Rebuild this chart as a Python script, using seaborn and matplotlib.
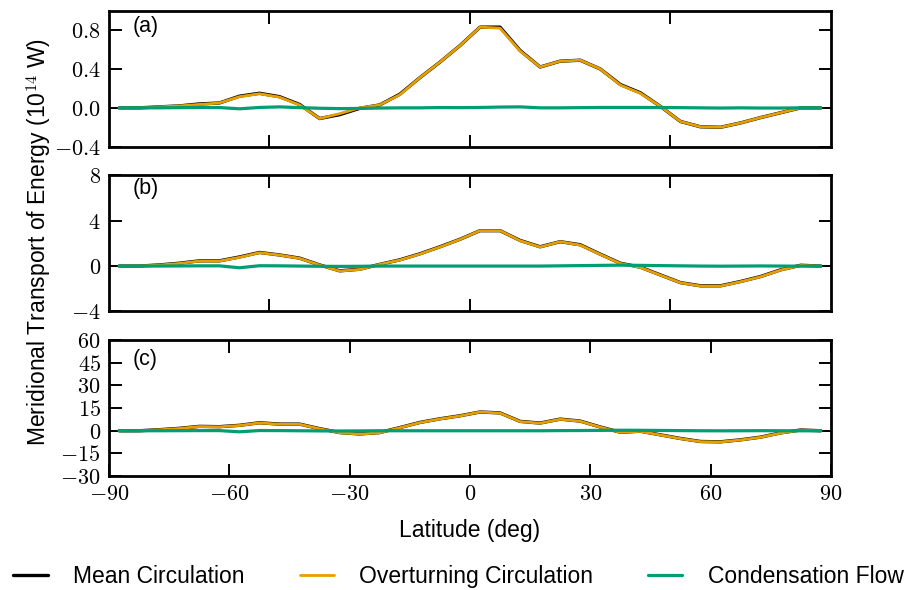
import matplotlib
matplotlib.use("Agg")
import matplotlib.pyplot as plt
from matplotlib.ticker import FuncFormatter
import seaborn as sns

# latitudes of the grid points (deg)
lat = [-87.5, -82.5, -77.5, -72.5, -67.5, -62.5, -57.5, -52.5, -47.5, -42.5,
       -37.5, -32.5, -27.5, -22.5, -17.5, -12.5, -7.5, -2.5, 2.5, 7.5,
       12.5, 17.5, 22.5, 27.5, 32.5, 37.5, 42.5, 47.5, 52.5, 57.5,
       62.5, 67.5, 72.5, 77.5, 82.5, 87.5]

# panel (a)
mean_a = [0.0, 0.0, 0.01, 0.02, 0.04, 0.05, 0.12, 0.15, 0.115, 0.035,
          -0.11, -0.07, -0.005, 0.03, 0.14, 0.31, 0.47, 0.64, 0.83, 0.83,
          0.59, 0.42, 0.48, 0.49, 0.40, 0.24, 0.155, 0.015, -0.14, -0.195,
          -0.20, -0.155, -0.10, -0.05, 0.0, 0.0]
over_a = [0.0, 0.0, 0.01, 0.02, 0.035, 0.05, 0.115, 0.145, 0.11, 0.03,
          -0.11, -0.06, 0.0, 0.03, 0.135, 0.31, 0.47, 0.64, 0.83, 0.82,
          0.585, 0.42, 0.48, 0.49, 0.40, 0.235, 0.15, 0.015, -0.14, -0.195,
          -0.20, -0.155, -0.10, -0.05, 0.0, 0.0]
cond_a = [0.0, 0.0, 0.0, 0.002, 0.004, 0.003, -0.01, 0.004, 0.01, 0.002,
          -0.004, -0.008, -0.006, -0.002, 0.0, 0.0, 0.003, 0.002, 0.004, 0.008,
          0.01, 0.0, 0.0, 0.002, 0.004, 0.004, 0.004, 0.003, 0.002, 0.0,
          -0.002, 0.0, -0.002, -0.002, 0.0, 0.0]

# panel (b)
mean_b = [0.0, 0.0, 0.1, 0.25, 0.46, 0.46, 0.8, 1.2, 0.98, 0.7,
          0.1, -0.42, -0.28, 0.15, 0.55, 1.08, 1.7, 2.36, 3.12, 3.12,
          2.26, 1.7, 2.15, 1.88, 1.05, 0.25, -0.1, -0.78, -1.46, -1.74,
          -1.74, -1.36, -0.92, -0.33, 0.07, 0.0]
over_b = [0.0, 0.0, 0.09, 0.23, 0.44, 0.44, 0.77, 1.18, 0.97, 0.68,
          0.09, -0.44, -0.3, 0.15, 0.53, 1.06, 1.68, 2.35, 3.12, 3.12,
          2.24, 1.68, 2.15, 1.85, 1.03, 0.23, -0.12, -0.8, -1.47, -1.76,
          -1.76, -1.38, -0.94, -0.35, 0.06, 0.0]
cond_b = [0.0, 0.0, 0.0, 0.01, 0.02, 0.02, -0.15, 0.03, 0.02, 0.0,
          -0.02, -0.03, -0.02, 0.0, 0.0, 0.0, 0.0, 0.0, 0.0, 0.0,
          0.0, 0.0, 0.02, 0.04, 0.06, 0.08, 0.06, 0.04, 0.02, 0.0,
          -0.01, 0.0, 0.01, 0.0, -0.01, 0.0]

# panel (c)
mean_c = [0.0, 0.0, 0.7, 1.6, 2.9, 2.7, 3.6, 5.3, 4.4, 4.4,
          1.4, -1.2, -2.1, -1.2, 2.1, 5.5, 7.9, 9.9, 12.4, 11.8,
          6.2, 5.1, 7.7, 6.4, 2.5, -1.0, -0.3, -2.7, -5.1, -7.1,
          -7.3, -6.0, -4.2, -1.4, 0.5, 0.0]
over_c = [0.0, 0.0, 0.65, 1.5, 2.8, 2.6, 3.5, 5.2, 4.3, 4.3,
          1.3, -1.3, -2.2, -1.3, 2.0, 5.4, 7.8, 9.8, 12.4, 11.7,
          6.1, 5.0, 7.6, 6.3, 2.4, -1.1, -0.4, -2.8, -5.2, -7.2,
          -7.4, -6.1, -4.3, -1.5, 0.4, 0.0]
cond_c = [0.0, 0.0, 0.0, 0.05, 0.1, 0.1, -0.7, 0.15, 0.1, 0.0,
          -0.1, -0.15, -0.1, 0.0, 0.0, 0.0, 0.0, 0.0, 0.0, 0.0,
          0.0, 0.0, 0.1, 0.15, 0.25, 0.35, 0.3, 0.2, 0.1, 0.0,
          -0.05, 0.0, 0.05, 0.0, -0.05, 0.0]

series_names = ["Mean Circulation", "Overturning Circulation", "Condensation Flow"]
panel_tags = ["(a)", "(b)", "(c)"]

panels = [
    (mean_a, over_a, cond_a),
    (mean_b, over_b, cond_b),
    (mean_c, over_c, cond_c),
]
ylims = [(-0.4, 1.0), (-4, 8), (-30, 60)]
yticks = [[-0.4, 0.0, 0.4, 0.8], [-4, 0, 4, 8], [-30, -15, 0, 15, 30, 45, 60]]
xticks = [[-50, 0, 50], [-50, 0, 50], [-90, -60, -30, 0, 30, 60, 90]]
tag_y = [0.885, 0.905, 0.86]

sns.set_theme(style="ticks")
plt.rcParams["font.family"] = ["Liberation Sans", "DejaVu Sans"]
plt.rcParams["mathtext.fontset"] = "cm"
plt.rcParams["text.color"] = "black"
plt.rcParams["axes.labelcolor"] = "black"

colors = ["#000000", "#E69F00", "#009E73"]
widths = [2.4, 2.0, 2.3]

fig, axes = plt.subplots(3, 1, figsize=(9.17, 5.9), dpi=100)
fig.subplots_adjust(left=0.119, right=0.906, top=0.982, bottom=0.193, hspace=0.21)

for i, ax in enumerate(axes):
    for vals, name, c, lw in zip(panels[i], series_names, colors, widths):
        sns.lineplot(x=lat, y=vals, ax=ax, color=c, linewidth=lw,
                     label=name, legend=False)
    ax.set_xlim(-90, 90)
    ax.set_ylim(*ylims[i])
    ax.set_xticks(xticks[i])
    ax.set_yticks(yticks[i])
    if i == 0:
        ax.yaxis.set_major_formatter(FuncFormatter(lambda v, p: f"${v:.1f}$"))
    else:
        ax.yaxis.set_major_formatter(FuncFormatter(lambda v, p: f"${v:g}$"))
    ax.xaxis.set_major_formatter(FuncFormatter(lambda v, p: f"${v:g}$"))
    if i < 2:
        ax.tick_params(axis="x", labelbottom=False)
    ax.tick_params(direction="in", top=True, right=True, length=9, width=1.4,
                   labelsize=16, pad=6, color="black", labelcolor="black")
    for sp in ax.spines.values():
        sp.set_linewidth(2)
        sp.set_color("black")
    ax.text(0.032, tag_y[i], panel_tags[i], transform=ax.transAxes,
            ha="left", va="center", fontsize=15.5, color="black")

axes[2].set_xlabel("Latitude (deg)", fontsize=16.5, labelpad=10, color="black")
fig.text(0.043, 0.59, r"Meridional Transport of Energy (10$^{14}$ W)",
         rotation=90, ha="center", va="center", fontsize=16.5, color="black")

handles, labels = axes[0].get_legend_handles_labels()
leg = fig.legend(handles, labels, loc="lower center", bbox_to_anchor=(0.5, -0.032),
                 ncol=3, frameon=False, fontsize=16.5, handlelength=1.5,
                 handletextpad=1.1, columnspacing=2.4)
for t in leg.get_texts():
    t.set_color("black")

plt.savefig("out.png", dpi=100)
